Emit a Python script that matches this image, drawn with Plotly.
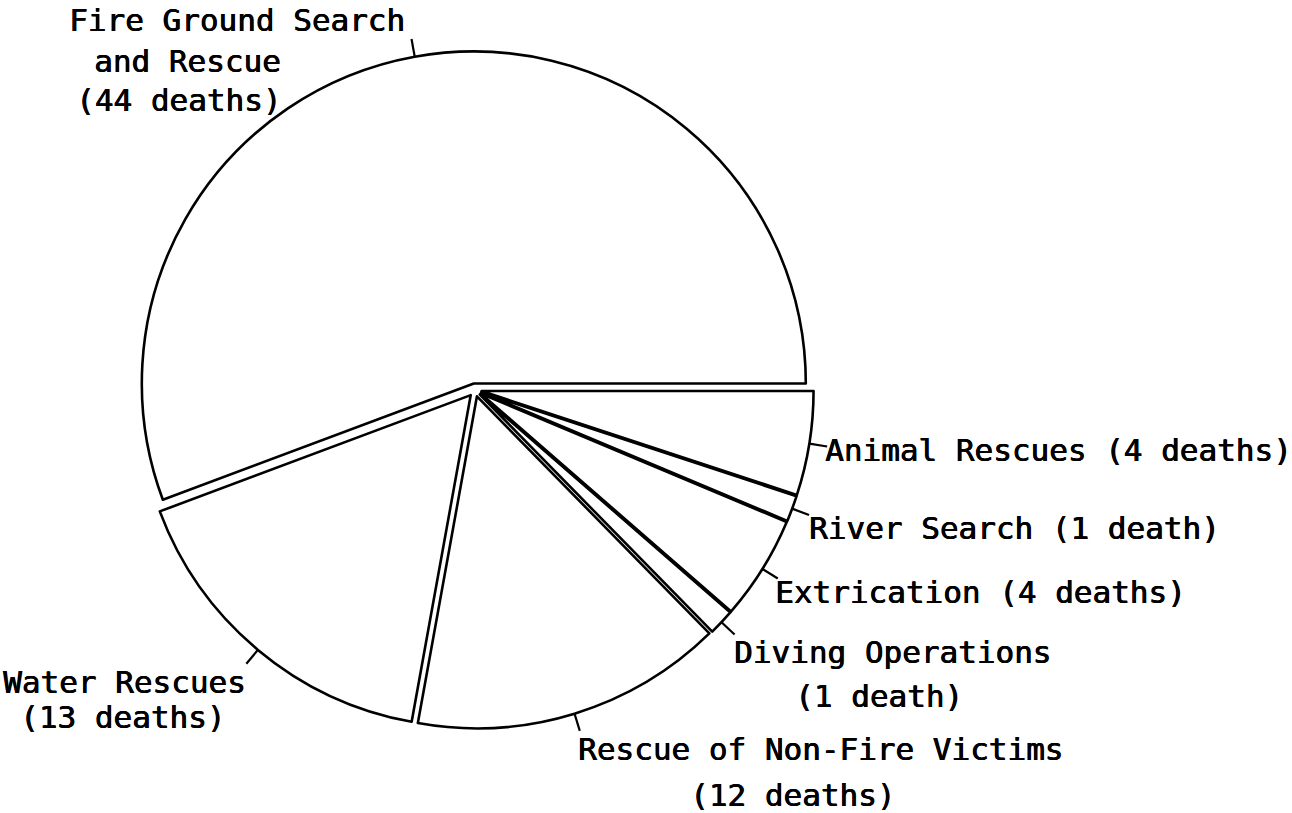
import math
import plotly.graph_objects as go

# ---- data ----
categories = ["Animal Rescues", "River Search", "Extrication", "Diving Operations",
              "Rescue of Non-Fire Victims", "Water Rescues", "Fire Ground Search and Rescue"]
deaths = [4, 1, 4, 1, 12, 13, 44]

label_lines = [
    ["Animal Rescues (4 deaths)"],
    ["River Search (1 death)"],
    ["Extrication (4 deaths)"],
    ["Diving Operations", "(1 death)"],
    ["Rescue of Non-Fire Victims", "(12 deaths)"],
    ["Water Rescues", "(13 deaths)"],
    ["Fire Ground Search", "and Rescue", "(44 deaths)"],
]

# ---- layout / style ----
W, H = 1292, 813
CX, CY, R = 475, 390, 332          # pie centre and radius in pixels
pulls = [0.02] * len(deaths)
TICK = 18                            # leader tick length, px
FONT = dict(family="DejaVu Sans Mono", size=31, color="black",
            shadow="0.7px 0px 0px black, 0px 0.4px 0px black")

# label line anchors (left x, middle y) in pixels
label_pos = [
    [(823, 450)],
    [(807, 528)],
    [(773, 592)],
    [(732, 652), (793, 696)],
    [(576, 749), (688, 795)],
    [(1, 682), (18, 717)],
    [(67, 20), (92, 61), (74, 100)],
]

maxpull = max(pulls)
half = R * (1 + maxpull)
dom_x = [(CX - half) / W, (CX + half) / W]
dom_y = [1 - (CY + half) / H, 1 - (CY - half) / H]

fig = go.Figure(go.Pie(
    labels=categories,
    values=deaths,
    sort=False,
    direction="clockwise",
    rotation=90,
    pull=pulls,
    textinfo="none",
    hoverinfo="label+value",
    showlegend=False,
    marker=dict(colors=["white"] * len(deaths), line=dict(color="black", width=2.6)),
    domain=dict(x=dom_x, y=dom_y),
))

total = sum(deaths)
shapes = []
cum = 0
for v, p in zip(deaths, pulls):
    mid = -(cum + v / 2) / total * 2 * math.pi
    cum += v
    r0 = R * (1 + p)
    r1 = r0 + TICK
    x0, y0 = CX + r0 * math.cos(mid), CY - r0 * math.sin(mid)
    x1, y1 = CX + r1 * math.cos(mid), CY - r1 * math.sin(mid)
    shapes.append(dict(type="line", xref="paper", yref="paper",
                       x0=x0 / W, y0=1 - y0 / H, x1=x1 / W, y1=1 - y1 / H,
                       line=dict(color="black", width=2.2)))

annotations = []
for lines, poss in zip(label_lines, label_pos):
    for txt, (px, py) in zip(lines, poss):
        annotations.append(dict(text=txt, x=px / W, y=1 - py / H, xref="paper", yref="paper",
                                xanchor="left", yanchor="middle", showarrow=False, font=FONT))

fig.update_layout(
    width=W, height=H,
    margin=dict(l=0, r=0, t=0, b=0),
    paper_bgcolor="white", plot_bgcolor="white",
    shapes=shapes, annotations=annotations,
)

fig.write_html("out.html", config={"displayModeBar": False},
               post_script="document.body.style.margin='0px';")
